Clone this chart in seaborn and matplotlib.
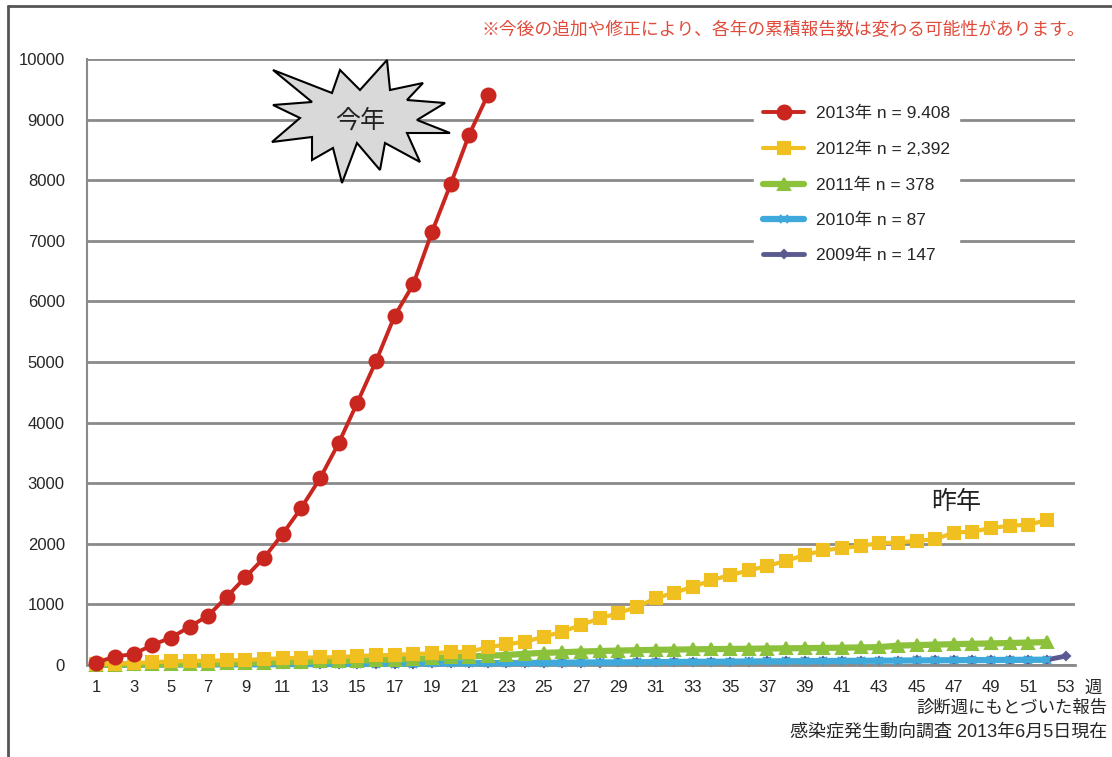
import numpy as np
import matplotlib
matplotlib.use("Agg")
import matplotlib.pyplot as plt
import seaborn as sns
from matplotlib.patches import Polygon
from matplotlib.lines import Line2D

# ---- data: cumulative weekly reports per year ----
weeks_2013 = list(range(1, 23))
cases_2013 = [40, 140, 180, 330, 450, 630, 815, 1125, 1450, 1770, 2165, 2595,
              3080, 3660, 4330, 5010, 5760, 6280, 7140, 7930, 8750, 9408]

weeks_52 = list(range(1, 53))
cases_2012 = [10, 20, 30, 45, 60, 65, 70, 75, 80, 100, 110, 120, 125, 130, 150, 160,
              165, 185, 190, 215, 220, 290, 340, 385, 465, 550, 660, 770, 855, 960,
              1100, 1195, 1290, 1400, 1485, 1560,
              1635, 1720, 1815, 1890, 1930, 1965, 2010, 2020, 2050, 2075, 2185, 2200,
              2260, 2300, 2315, 2392]
cases_2011 = [3, 6, 9, 12, 15, 20, 24, 30, 35, 40, 46, 52, 58, 65, 72, 80,
              90, 100, 112, 125, 140, 152, 165, 185, 200, 210, 222, 230, 238, 244,
              250, 254, 258, 262, 265, 268, 272, 275, 278, 282, 285, 290, 294,
              320, 328, 336, 344, 350, 356, 363, 370, 378]
cases_2010 = [2, 3, 4, 5, 7, 8, 9, 10, 11, 12, 14, 15, 16, 18, 19, 20, 22, 24, 25,
              27, 29, 30, 32, 34, 35, 37, 40, 42, 43, 45, 47, 50, 52, 53, 55, 58,
              60, 61, 63, 65, 67, 69, 71, 73, 75, 77, 79, 80, 82, 84, 86, 87]
weeks_53 = list(range(1, 54))
cases_2009 = [2, 3, 4, 5, 6, 8, 9, 10, 11, 12, 13, 15, 16, 17, 19, 20, 21, 23, 25,
              26, 28, 30, 31, 33, 35, 36, 38, 41, 42, 44, 46, 49, 51, 53, 55, 57,
              59, 61, 63, 65, 67, 69, 71, 73, 75, 77, 78, 80, 82, 83, 85, 86, 147]

legend_labels = ["2013年 n = 9.408", "2012年 n = 2,392", "2011年 n = 378",
                 "2010年 n = 87", "2009年 n = 147"]

W, H = 1112, 757


def fx(px):
    return px / W


def fy(py):
    return 1 - py / H


sns.set_style("white")
plt.rcParams["font.family"] = ["Liberation Sans", "Noto Sans CJK JP"]

fig = plt.figure(figsize=(W / 100, H / 100), dpi=100)
fig.patch.set_facecolor("white")
ax = fig.add_axes([fx(87), fy(665), (1075 - 87) / W, (665 - 59) / H])

grey = "#8a8a8a"
ink = "#262626"

# series drawn bottom-up so the current year sits on top
series = [
    (weeks_53, cases_2009, legend_labels[4], "#5b5a90", "D", 4.5, 3.5, 2),
    (weeks_52, cases_2010, legend_labels[3], "#3fa9dc", "x", 6, 4.5, 3),
    (weeks_52, cases_2011, legend_labels[2], "#8cc13c", "^", 9, 4.5, 4),
    (weeks_52, cases_2012, legend_labels[1], "#f0c020", "s", 8.5, 3.0, 5),
    (weeks_2013, cases_2013, legend_labels[0], "#c9261f", "o", 10, 2.8, 6),
]
for xs, ys, lab, col, mk, ms, lw, z in series:
    sns.lineplot(x=xs, y=ys, ax=ax, color=col, marker=mk, markersize=ms,
                 linewidth=lw, markeredgecolor=col, markeredgewidth=1.5,
                 label=lab, zorder=z, clip_on=False)

ax.set_xlim(0.57, 53.32)
ax.set_ylim(0, 10000)
ax.set_yticks(range(0, 10001, 1000))
ax.set_xticks(range(1, 54, 2))
ax.set_xticks(np.arange(0.5, 54, 1), minor=True)
ax.set_xlabel("")
ax.set_ylabel("")

ax.grid(axis="y", color=grey, linewidth=2)
ax.grid(axis="x", visible=False)
ax.set_axisbelow(True)
for side in ("top", "right"):
    ax.spines[side].set_visible(False)
ax.spines["left"].set_color(grey)
ax.spines["left"].set_linewidth(1.5)
ax.spines["bottom"].set_color(grey)
ax.spines["bottom"].set_linewidth(2)

ax.tick_params(axis="y", which="major", length=4, width=2, color=grey,
               direction="out", pad=12, labelsize=12, labelcolor=ink)
ax.tick_params(axis="x", which="major", length=0, pad=11, labelsize=12,
               labelcolor=ink)
ax.tick_params(axis="x", which="minor", length=5, width=1.5, color=grey,
               direction="out")

handles, labels = ax.get_legend_handles_labels()
order = [labels.index(l) for l in legend_labels]
leg = ax.legend([handles[i] for i in order], [labels[i] for i in order],
                loc="upper left", bbox_to_anchor=(fx(754), fy(97)),
                bbox_transform=fig.transFigure, fontsize=12.5, frameon=True,
                facecolor="white", edgecolor="white", framealpha=1,
                handlelength=2.4, handletextpad=0.7, labelspacing=1.15,
                borderpad=0.5, borderaxespad=0, numpoints=1)
for t in leg.get_texts():
    t.set_color(ink)

# starburst callout for the current year
burst_px = [(273, 70), (332, 93), (340, 70), (360, 90), (387, 60), (390, 90),
            (423, 83), (407, 100), (445, 103), (417, 120), (450, 133), (407, 133),
            (420, 162), (385, 143), (380, 170), (357, 143), (342, 183), (333, 148),
            (312, 160), (312, 137), (272, 142), (300, 118), (273, 105), (312, 102)]
burst = Polygon([(fx(x), fy(y)) for x, y in burst_px], closed=True,
                transform=fig.transFigure, facecolor="#d9d9d9",
                edgecolor="black", linewidth=1.5, zorder=7)
fig.add_artist(burst)
fig.text(fx(360), fy(121), "今年", ha="center", va="center", fontsize=18,
         color="#222222", family=["Noto Sans CJK JP"], zorder=8)
fig.text(fx(956), fy(502), "昨年", ha="center", va="center", fontsize=18,
         color="#222222", family=["Noto Sans CJK JP"])

fig.text(fx(1085), fy(31), "※今後の追加や修正により、各年の累積報告数は変わる可能性があります。",
         ha="right", va="center", fontsize=12.8, color="#e04a3a")
fig.text(fx(1084), fy(688), "週", ha="left", va="center", fontsize=12.5,
         color=ink)
fig.text(fx(1107), fy(708), "診断週にもとづいた報告", ha="right", va="center",
         fontsize=12.5, color=ink)
fig.text(fx(1107), fy(732), "感染症発生動向調査 2013年6月5日現在", ha="right",
         va="center", fontsize=13, color=ink)

# frame around the figure (left and top edges)
fig.add_artist(Line2D([fx(8), fx(8)], [fy(6), 0], color="#555555", lw=2,
                      transform=fig.transFigure))
fig.add_artist(Line2D([fx(8), 1], [fy(6), fy(6)], color="#555555", lw=2,
                      transform=fig.transFigure))

fig.savefig("out.png", dpi=100, facecolor="white")
